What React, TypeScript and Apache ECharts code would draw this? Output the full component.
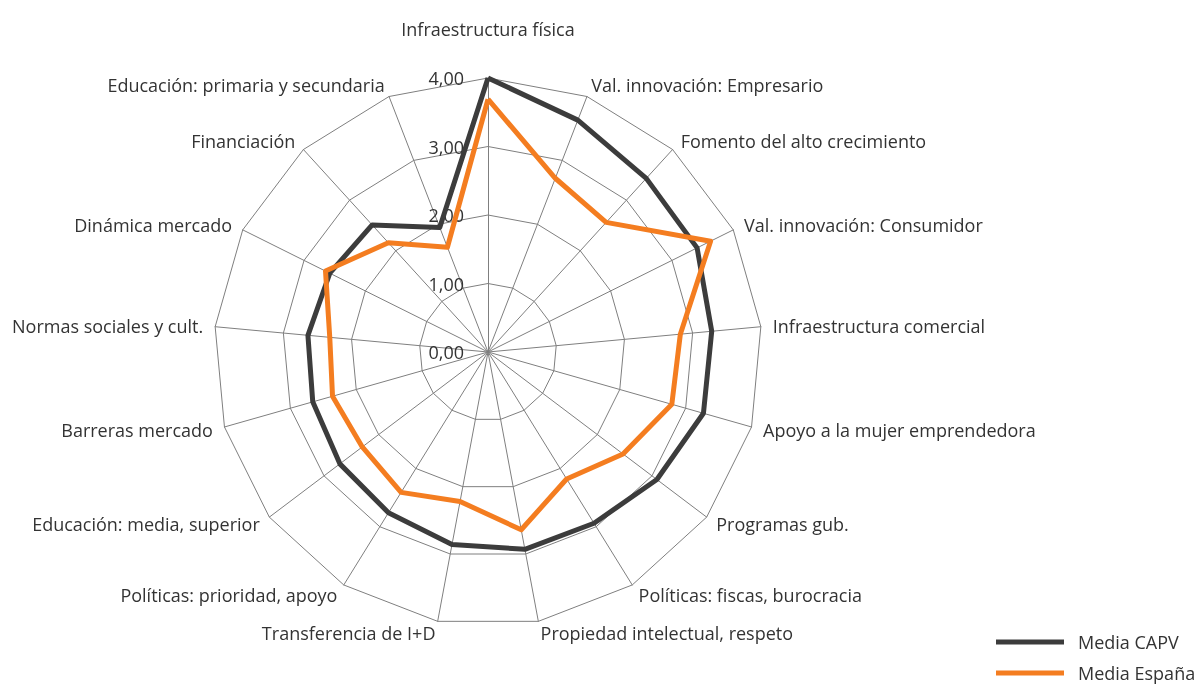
import React, { useEffect, useRef } from "react";
import * as echarts from "echarts";

const indicators = [
  "Infraestructura física",
  "Val. innovación: Empresario",
  "Fomento del alto crecimiento",
  "Val. innovación: Consumidor",
  "Infraestructura comercial",
  "Apoyo a la mujer emprendedora",
  "Programas gub.",
  "Políticas: fiscas, burocracia",
  "Propiedad intelectual, respeto",
  "Transferencia de I+D",
  "Políticas: prioridad, apoyo",
  "Educación: media, superior",
  "Barreras mercado",
  "Normas sociales y cult.",
  "Dinámica mercado",
  "Financiación",
  "Educación: primaria y secundaria",
];

const mediaCAPV = [4.0, 3.63, 3.43, 3.41, 3.28, 3.27, 3.09, 2.94, 2.93, 2.86, 2.76, 2.71, 2.66, 2.64, 2.58, 2.51, 1.95];
const mediaEspana = [3.69, 2.72, 2.56, 3.63, 2.82, 2.79, 2.47, 2.18, 2.64, 2.22, 2.41, 2.3, 2.36, 2.32, 2.65, 2.16, 1.64];

const seriesNames = ["Media CAPV", "Media España"];
const seriesColors = ["#3c3c3c", "#f47d20"];
const axisMax = 4;

const FONT = "'Open Sans', sans-serif";
const TEXT = "#333333";
const FS = 18;

// ECharts places indicators counter-clockwise; reorder to get clockwise from top.
const order = [0, ...indicators.map((_, i) => i).slice(1).reverse()];
const reorder = (arr: any[]) => order.map((i) => arr[i]);

export default function App() {
  const ref = useRef<HTMLDivElement>(null);
  useEffect(() => {
    if (!ref.current) return;
    const chart = echarts.init(ref.current, null, { renderer: "svg" });
    const fmt = (v: number) => v.toFixed(2).replace(".", ",");
    const legendBase = {
      orient: "vertical",
      left: 991,
      itemWidth: 68,
      itemHeight: 5,
      icon: "rect",
      textStyle: { fontSize: FS, color: TEXT, fontFamily: FONT, padding: [0, 0, 0, 9] },
    };
    chart.setOption({
      animation: false,
      textStyle: { fontFamily: FONT },
      legend: [
        { ...legendBase, top: 628, data: [seriesNames[0]] },
        { ...legendBase, top: 659, data: [seriesNames[1]] },
      ],
      radar: {
        center: [488, 352],
        radius: 274,
        startAngle: 90,
        shape: "polygon",
        splitNumber: 4,
        nameGap: 12,
        axisName: {
          color: TEXT,
          fontSize: FS,
          fontFamily: FONT,
          formatter: (name: string) => (name === indicators[0] ? `{top|${name}}` : name),
          rich: {
            top: { padding: [0, 0, 28, 0], fontSize: FS, color: TEXT, fontFamily: FONT },
          },
        },
        axisLine: { show: true, lineStyle: { color: "#7f7f7f", width: 1 } },
        splitLine: { show: true, lineStyle: { color: "#7f7f7f", width: 1 } },
        splitArea: { show: false },
        axisTick: { show: false },
        axisLabel: { show: false },
        indicator: reorder(
          indicators.map((name, i) =>
            i === 0
              ? {
                  name,
                  min: 0,
                  max: axisMax,
                  axisLabel: {
                    show: true,
                    formatter: fmt,
                    color: TEXT,
                    fontSize: FS,
                    fontFamily: FONT,
                    margin: 24,
                  },
                }
              : { name, min: 0, max: axisMax }
          )
        ),
      },
      series: [
        {
          type: "radar",
          symbol: "none",
          data: [
            {
              name: seriesNames[0],
              value: reorder(mediaCAPV),
              lineStyle: { color: seriesColors[0], width: 5 },
              itemStyle: { color: seriesColors[0] },
            },
            {
              name: seriesNames[1],
              value: reorder(mediaEspana),
              lineStyle: { color: seriesColors[1], width: 5 },
              itemStyle: { color: seriesColors[1] },
            },
          ],
        },
      ],
    });
    return () => chart.dispose();
  }, []);
  return (
    <div
      ref={ref}
      style={{ position: "fixed", left: 0, top: 0, width: 1194, height: 684 }}
    />
  );
}
